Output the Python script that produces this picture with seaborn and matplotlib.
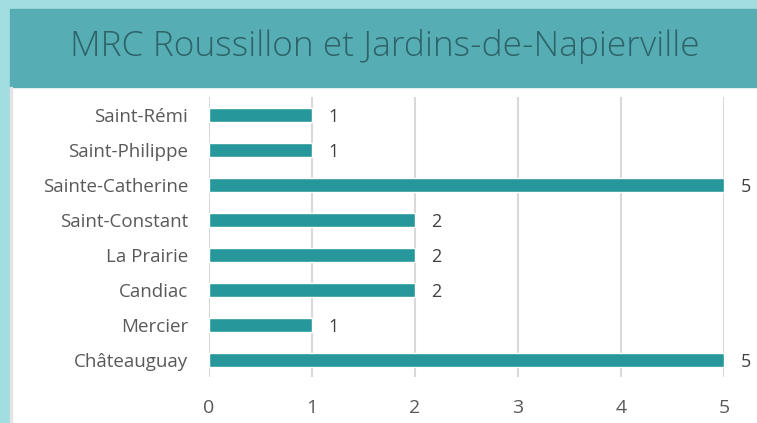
import matplotlib
matplotlib.use('Agg')
import matplotlib.pyplot as plt
import seaborn as sns
import pandas as pd
from matplotlib.patches import Rectangle

villes = ['Saint-Rémi', 'Saint-Philippe', 'Sainte-Catherine', 'Saint-Constant',
          'La Prairie', 'Candiac', 'Mercier', 'Châteauguay']
nombres = [1, 1, 5, 2, 2, 2, 1, 5]
ticks_x = [0, 1, 2, 3, 4, 5]

titre = 'MRC Roussillon et Jardins-de-Napierville'

sns.set_style('white')
plt.rcParams['font.family'] = ['Open Sans', 'DejaVu Sans']

df = pd.DataFrame({'ville': villes, 'nombre': nombres})

fig = plt.figure(figsize=(7.57, 4.23), dpi=100)
fig.patch.set_facecolor('white')

# cadre et bandeau du titre
fig.patches.append(Rectangle((0, 0), 10 / 757, 1, transform=fig.transFigure,
                             color='#a2dde1', zorder=0))
fig.patches.append(Rectangle((0, 1 - 9 / 423), 1, 9 / 423,
                             transform=fig.transFigure, color='#a2dde1', zorder=0))
fig.patches.append(Rectangle((10 / 757, 1 - 87 / 423), 1, 78 / 423,
                             transform=fig.transFigure, color='#56aeb4', zorder=0))
fig.patches.append(Rectangle((10 / 757, 0), 2 / 757, 1 - 87 / 423,
                             transform=fig.transFigure, color='#e4e4e4', zorder=0))
fig.text(385 / 757, 1 - 47 / 423, titre, ha='center', va='center',
         fontsize=25.5, color='#2e6469', fontweight='light')

ax = fig.add_axes([209 / 757, 1 - 377 / 423, 515 / 757, 280 / 423])
ax.set_facecolor('none')
sns.barplot(data=df, x='nombre', y='ville', orient='h', color='#26979a',
            width=0.4, saturation=1, ax=ax, zorder=3)

for i, v in enumerate(nombres):
    ax.text(v + 0.16, i, str(v), va='center_baseline', ha='left', fontsize=13,
            color='#404040', clip_on=False)

ax.set_xlim(0, 5)
ax.set_xticks(ticks_x)
ax.xaxis.grid(True, color='#d9d9d9', linewidth=1.5, zorder=0)
ax.yaxis.grid(False)
for s in ax.spines.values():
    s.set_visible(False)
ax.set_xlabel('')
ax.set_ylabel('')
ax.tick_params(axis='x', length=0, pad=16, labelsize=14, labelcolor='#595959')
ax.tick_params(axis='y', length=0, pad=15, labelsize=13.5, labelcolor='#595959')

fig.savefig('out.png', dpi=100)
